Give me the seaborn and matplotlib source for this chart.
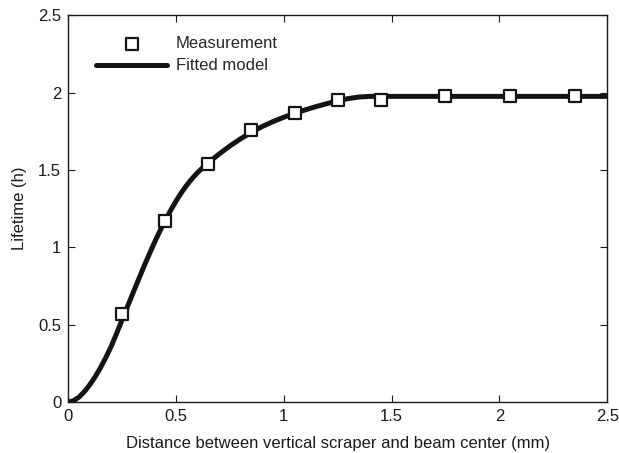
import matplotlib
matplotlib.use("Agg")
import matplotlib.pyplot as plt
import seaborn as sns

# measured points
meas_x = [0.25, 0.45, 0.65, 0.85, 1.05, 1.25, 1.45, 1.75, 2.05, 2.35]
meas_y = [0.57, 1.17, 1.54, 1.755, 1.87, 1.953, 1.95, 1.98, 1.975, 1.98]

# fitted model curve
fit_x = [0.0, 0.025, 0.05, 0.075, 0.1, 0.125, 0.15, 0.175, 0.2, 0.225, 0.25, 0.275,
         0.3, 0.325, 0.35, 0.375, 0.4, 0.425, 0.45, 0.475, 0.5, 0.525, 0.55, 0.575,
         0.6, 0.625, 0.65, 0.675, 0.7, 0.75, 0.8, 0.85, 0.9, 0.95, 1.0, 1.05, 1.1,
         1.15, 1.2, 1.25, 1.3, 1.35, 1.4, 1.5, 2.0, 2.5]
fit_y = [0.0, 0.008, 0.031, 0.066, 0.11, 0.162, 0.221, 0.287, 0.36, 0.443, 0.529, 0.615,
         0.701, 0.786, 0.87, 0.951, 1.029, 1.103, 1.172, 1.237, 1.297, 1.352, 1.401, 1.444,
         1.482, 1.515, 1.545, 1.574, 1.602, 1.654, 1.701, 1.743, 1.78, 1.812, 1.84, 1.865, 1.888,
         1.909, 1.928, 1.946, 1.961, 1.971, 1.975, 1.975, 1.975, 1.975]

ticks = [0, 0.5, 1, 1.5, 2, 2.5]
tick_labels = ["0", "0.5", "1", "1.5", "2", "2.5"]

sns.set_style("ticks")
plt.rcParams["font.family"] = ["Liberation Sans", "DejaVu Sans"]

fig = plt.figure(figsize=(6.19, 4.53), dpi=100)
ax = fig.add_axes([0.110, 0.1126, 0.871, 0.854])

sns.lineplot(x=fit_x, y=fit_y, ax=ax, color="#141414", linewidth=3.6,
             label="Fitted model", sort=False)
sns.scatterplot(x=meas_x, y=meas_y, ax=ax, marker="s", s=70, facecolor="white",
                edgecolor="#141414", linewidth=1.6, label="Measurement", zorder=3)

ax.set_xlim(0, 2.5)
ax.set_ylim(0, 2.5)
ax.set_xticks(ticks)
ax.set_xticklabels(tick_labels)
ax.set_yticks(ticks)
ax.set_yticklabels(tick_labels)
ax.tick_params(direction="in", top=True, right=True, length=5, width=0.8,
               labelsize=12, colors="#1a1a1a", pad=5)
for sp in ax.spines.values():
    sp.set_linewidth(1.0)
    sp.set_color("#1a1a1a")

ax.set_xlabel("Distance between vertical scraper and beam center (mm)", fontsize=12,
              color="#1a1a1a", labelpad=9)
ax.set_ylabel("Lifetime (h)", fontsize=12, color="#1a1a1a", labelpad=8)

handles, labels = ax.get_legend_handles_labels()
order = [labels.index("Measurement"), labels.index("Fitted model")]
ax.legend([handles[i] for i in order], [labels[i] for i in order], loc="upper left",
          frameon=False, fontsize=12, handlelength=4.25, handletextpad=0.54,
          labelspacing=0.42, borderpad=0, borderaxespad=0,
          bbox_to_anchor=(0.052, 0.945))

fig.savefig("out.png", dpi=100)
